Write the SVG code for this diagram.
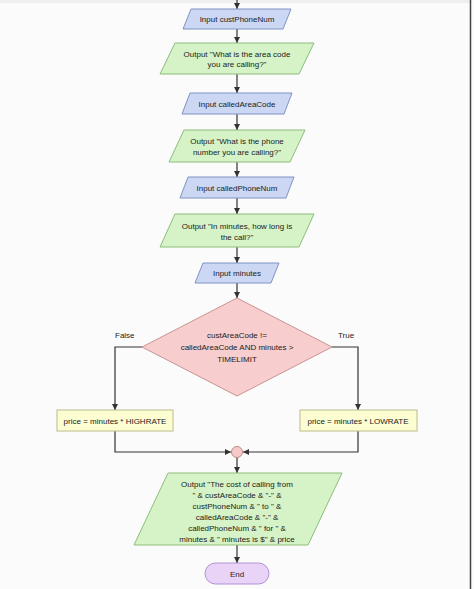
<svg xmlns="http://www.w3.org/2000/svg" width="474" height="589" viewBox="0 0 474 589">
<defs>
<marker id="arr" markerUnits="userSpaceOnUse" markerWidth="7" markerHeight="7" refX="6" refY="3" orient="auto">
<path d="M0,0 L6,3 L0,6 z" fill="#333"/>
</marker>
<style>
text{font-family:"Liberation Sans",Arial,sans-serif;font-size:8px;fill:#222;text-anchor:middle;dominant-baseline:central}
.in{fill:#cbd7f3;stroke:#7f93c4;stroke-width:1}
.out{fill:#d5f3c6;stroke:#8dbd7d;stroke-width:1}
.dec{fill:#f7cdcd;stroke:#c99494;stroke-width:1}
.proc{fill:#fdfdd2;stroke:#bcbc8c;stroke-width:1}
.join{fill:#f7caca;stroke:#c08888;stroke-width:1}
.term{fill:#e9d4f8;stroke:#b191d6;stroke-width:1}
.c{fill:none;stroke:#333;stroke-width:1.2;marker-end:url(#arr)}
.lbl{text-anchor:start}
</style>
</defs>
<rect x="0" y="0" width="474" height="589" fill="#fbfbfb"/>
<rect x="0" y="0" width="470" height="3" fill="#efefef"/>
<line x1="470.5" y1="0" x2="470.5" y2="589" stroke="#444" stroke-width="1.5"/>

<g id="connectors">
<line class="c" x1="237" y1="0" x2="237" y2="9"/>
<line class="c" x1="237" y1="29" x2="237" y2="43"/>
<line class="c" x1="237" y1="74" x2="237" y2="93"/>
<line class="c" x1="237" y1="114" x2="237" y2="130"/>
<line class="c" x1="237" y1="162" x2="237" y2="177"/>
<line class="c" x1="237" y1="198" x2="237" y2="214"/>
<line class="c" x1="237" y1="247" x2="237" y2="263"/>
<line class="c" x1="237" y1="283" x2="237" y2="298"/>
<polyline class="c" points="142,347 115,347 115,410"/>
<polyline class="c" points="332,347 358,347 358,410"/>
<polyline class="c" points="115,431 115,452 231,452"/>
<polyline class="c" points="358,431 358,452 243,452"/>
<line class="c" x1="237" y1="457" x2="237" y2="473"/>
<line class="c" x1="237" y1="545" x2="237" y2="563"/>
<text class="lbl" x="115" y="335">False</text>
<text class="lbl" x="338" y="335">True</text>
</g>

<g id="n1">
<polygon class="in" points="191,9 291,9 283,29 183,29"/>
<text x="237" y="19">Input custPhoneNum</text>
</g>
<g id="n2">
<polygon class="out" points="175,43 314,43 299,74 160,74"/>
<text x="237" y="54">Output "What is the area code</text>
<text x="237" y="64">you are calling?"</text>
</g>
<g id="n3">
<polygon class="in" points="190,93 292,93 284,114 182,114"/>
<text x="237" y="104">Input calledAreaCode</text>
</g>
<g id="n4">
<polygon class="out" points="184,130 305,130 290,162 169,162"/>
<text x="237" y="141">Output "What is the phone</text>
<text x="237" y="152">number you are calling?"</text>
</g>
<g id="n5">
<polygon class="in" points="188,177 294,177 286,198 180,198"/>
<text x="237" y="188">Input calledPhoneNum</text>
</g>
<g id="n6">
<polygon class="out" points="175,214 314,214 299,247 160,247"/>
<text x="237" y="226">Output "In minutes, how long is</text>
<text x="237" y="237">the call?"</text>
</g>
<g id="n7">
<polygon class="in" points="203,263 279,263 271,283 195,283"/>
<text x="237" y="273">Input minutes</text>
</g>
<g id="n8">
<polygon class="dec" points="237,298 332,347 237,396 142,347"/>
<text x="237" y="335">custAreaCode !=</text>
<text x="237" y="347">calledAreaCode AND minutes &gt;</text>
<text x="237" y="359">TIMELIMIT</text>
</g>
<g id="n9">
<rect class="proc" x="57" y="410" width="116" height="21"/>
<text x="115" y="421">price = minutes * HIGHRATE</text>
</g>
<g id="n10">
<rect class="proc" x="300" y="410" width="117" height="21"/>
<text x="358" y="421">price = minutes * LOWRATE</text>
</g>
<g id="n11">
<circle class="join" cx="237" cy="452" r="5.5"/>
</g>
<g id="n12">
<polygon class="out" points="168,473 342,473 308,545 134,545"/>
<text x="237" y="484">Output "The cost of calling from</text>
<text x="237" y="495">" &amp; custAreaCode &amp; "-" &amp;</text>
<text x="237" y="506">custPhoneNum &amp; " to " &amp;</text>
<text x="237" y="517">calledAreaCode &amp; "-" &amp;</text>
<text x="237" y="528">calledPhoneNum &amp; " for " &amp;</text>
<text x="237" y="539">minutes &amp; " minutes is $" &amp; price</text>
</g>
<g id="n13">
<rect class="term" x="205" y="563" width="64" height="21" rx="10.5"/>
<text x="237" y="574">End</text>
</g>
</svg>
